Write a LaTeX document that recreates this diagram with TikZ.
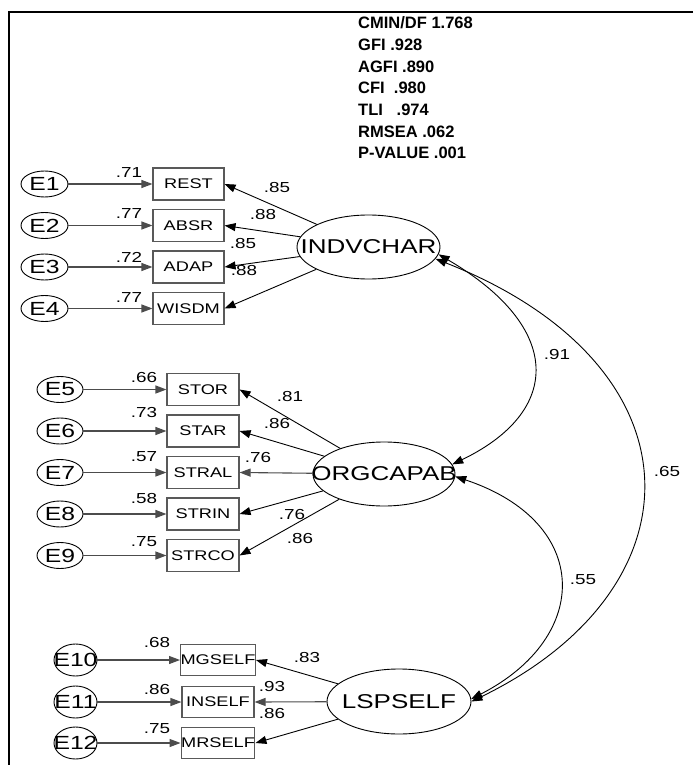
\documentclass[tikz,border=0pt]{standalone}
\usepackage{fontspec}
\setmainfont{Liberation Sans}
\newfontfamily\dgf[FakeStretch=1.3]{Liberation Sans}
\usetikzlibrary{arrows.meta,shapes.geometric}
\begin{document}
\begin{tikzpicture}[x=1pt,y=-1pt,
  >={Triangle[length=11pt,width=8pt]},
  obsbox/.style={draw=black!65, line width=1.1pt, rectangle, minimum width=71pt, minimum height=32pt, inner sep=0pt, font=\dgf\fontsize{14}{14}\selectfont},
  errell/.style={draw, ellipse, line width=0.9pt, minimum width=47pt, minimum height=26pt, inner sep=0pt},
  errtall/.style={draw, ellipse, line width=0.9pt, minimum width=43pt, minimum height=32pt, inner sep=0pt},
  errtxt/.style={font=\dgf\fontsize{19}{19}\selectfont, inner sep=0pt},
  latell/.style={draw, ellipse, line width=0.9pt, minimum width=143pt, minimum height=64pt, inner sep=0pt},
  lattxt/.style={font=\dgf\fontsize{20}{20}\selectfont, inner sep=0pt},
  coef/.style={font=\dgf\fontsize{14.5}{14.5}\selectfont, inner sep=0pt},
  stat/.style={font=\bfseries\fontsize{16.5}{16.5}\selectfont, inner sep=0pt, anchor=west},
  hconn/.style={draw=black!70, line width=1.1pt},
  conn/.style={draw=black, line width=0.9pt}
]
\useasboundingbox (0,0) rectangle (693,765);
% frame
\draw[line width=2.3pt] (693,12) -- (8.7,12) -- (8.7,765);
% fit statistics
\node[stat] (s1) at (358,23) {CMIN/DF 1.768};
\node[stat] (s2) at (358,45) {GFI .928};
\node[stat] (s3) at (358,67) {AGFI .890};
\node[stat] (s4) at (358,88) {CFI\ \ .980};
\node[stat] (s5) at (358,110) {TLI\ \ \ .974};
\node[stat] (s6) at (358,132) {RMSEA .062};
\node[stat] (s7) at (358,153) {P-VALUE .001};

% latent variables
\node[latell, label={[lattxt]center:INDVCHAR}] (indv) at (368.5,247) {};
\node[latell, minimum width=142pt, label={[lattxt]center:ORGCAPAB}] (orgc) at (384,474) {};
\node[latell, minimum width=144pt, minimum height=65pt, label={[lattxt]center:LSPSELF}] (lsp) at (399,701.5) {};

% group 1
\node[obsbox] (rest) at (188.5,184) {REST};
\node[obsbox] (absr) at (188.5,225.5) {ABSR};
\node[obsbox] (adap) at (188.5,267) {ADAP};
\node[obsbox] (wisdm) at (188.5,308.5) {WISDM};
\node[errell, label={[errtxt]center:E1}] (e1) at (44.5,184) {};
\node[errell, label={[errtxt]center:E2}] (e2) at (44.5,225.5) {};
\node[errell, label={[errtxt]center:E3}] (e3) at (44.5,267) {};
\node[errell, label={[errtxt]center:E4}] (e4) at (44.5,308.5) {};

% group 2
\node[obsbox, minimum width=72pt] (stor) at (203,389.5) {STOR};
\node[obsbox, minimum width=72pt] (star) at (203,431) {STAR};
\node[obsbox, minimum width=72pt] (stral) at (203,472.5) {STRAL};
\node[obsbox, minimum width=72pt] (strin) at (203,514) {STRIN};
\node[obsbox, minimum width=72pt] (strco) at (203,555.5) {STRCO};
\node[errell, minimum width=46pt, label={[errtxt]center:E5}] (e5) at (60,389.5) {};
\node[errell, minimum width=46pt, label={[errtxt]center:E6}] (e6) at (60,431) {};
\node[errell, minimum width=46pt, label={[errtxt]center:E7}] (e7) at (60,472.5) {};
\node[errell, minimum width=46pt, label={[errtxt]center:E8}] (e8) at (60,514) {};
\node[errell, minimum width=46pt, label={[errtxt]center:E9}] (e9) at (60,555.5) {};

% group 3
\node[obsbox, minimum width=72pt, minimum height=31pt] (mgself) at (218,660) {MGSELF};
\node[obsbox, minimum width=72pt, minimum height=31pt] (inself) at (218,702) {INSELF};
\node[obsbox, minimum width=72pt, minimum height=31pt] (mrself) at (218,743) {MRSELF};
\node[errtall, label={[errtxt]center:E10}] (e10) at (75.5,660) {};
\node[errtall, label={[errtxt]center:E11}] (e11) at (75.5,702) {};
\node[errtall, label={[errtxt]center:E12}] (e12) at (75.5,743) {};

% error arrows
\foreach \e/\b in {e1/rest,e2/absr,e3/adap,e4/wisdm,e5/stor,e6/star,e7/stral,e8/strin,e9/strco,e10/mgself,e11/inself,e12/mrself}
  \draw[hconn,->] (\e) -- (\b);

% loadings
\draw[conn,->] (indv) -- (rest.east);
\draw[conn,->] (indv) -- (absr.east);
\draw[conn,->] (indv) -- (adap.east);
\draw[conn,->] (indv) -- (wisdm.east);
\draw[conn,->] (orgc) -- (stor.east);
\draw[conn,->] (orgc) -- (star.east);
\draw[hconn,->] (orgc) -- (stral.east);
\draw[conn,->] (orgc) -- (strin.east);
\draw[conn,->] (orgc) -- (strco.east);
\draw[conn,->] (lsp) -- (mgself.east);
\draw[hconn,->] (lsp) -- (inself.east);
\draw[conn,->] (lsp) -- (mrself.east);

% covariances
\draw[conn,<->] (indv.-6) .. controls (563,327) and (563,411) .. (orgc.8);
\draw[conn,<->] (orgc.-2) .. controls (592,522) and (592,637) .. (lsp.2);
\draw[conn,<->] (indv.-10) .. controls (705,365) and (705,588) .. (lsp.0);

% residual labels
\node[coef] (c1) at (129,173) {.71};
\node[coef] (c2) at (129,214) {.77};
\node[coef] (c3) at (129,257) {.72};
\node[coef] (c4) at (129,298) {.77};
\node[coef] (c5) at (144,378) {.66};
\node[coef] (c6) at (144,413) {.73};
\node[coef] (c7) at (144,457) {.57};
\node[coef] (c8) at (144,499) {.58};
\node[coef] (c9) at (144,542) {.75};
\node[coef] (c10) at (157,643) {.68};
\node[coef] (c11) at (157,689) {.86};
\node[coef] (c12) at (157,729) {.75};

% loading labels
\node[coef] (l1) at (277,188) {.85};
\node[coef] (l2) at (263,215) {.88};
\node[coef] (l3) at (243,244) {.85};
\node[coef] (l4) at (244,271) {.88};
\node[coef] (l5) at (290,397) {.81};
\node[coef] (l6) at (277,424) {.86};
\node[coef] (l7) at (258,458) {.76};
\node[coef] (l8) at (292,515) {.76};
\node[coef] (l9) at (300,539) {.86};
\node[coef] (l10) at (307,658) {.83};
\node[coef] (l11) at (272,686) {.93};
\node[coef] (l12) at (272,713) {.86};

% covariance labels
\node[coef] (k1) at (557,355) {.91};
\node[coef] (k2) at (583,580) {.55};
\node[coef] (k3) at (667,472) {.65};
\end{tikzpicture}
\end{document}
